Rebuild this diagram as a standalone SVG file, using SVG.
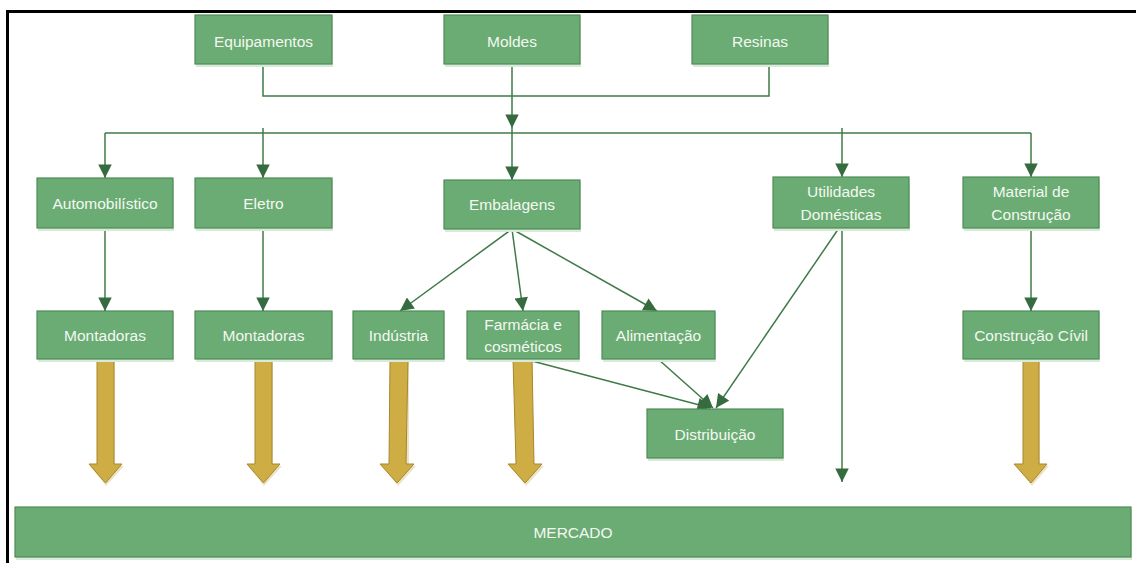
<svg xmlns="http://www.w3.org/2000/svg" width="1136" height="563" viewBox="0 0 1136 563">
  <style>
    .box { fill: #6aac73; stroke: #4e8a56; stroke-width: 1.2; }
    .shadow { fill: #d9ead9; }
    .lbl { font-family: "Liberation Sans", Arial, sans-serif; font-size: 15.5px; fill: #f4f8f2; text-anchor: middle; dominant-baseline: central; }
    .wire { fill: none; stroke: #3f7a47; stroke-width: 1.5; }
    .flow { fill: #cfad45; stroke: #a7872c; stroke-width: 1; }
    .flowshadow { fill: #ece3c6; }
  </style>
  <defs>
    <marker id="headL" viewBox="0 0 10 10" refX="10" refY="5" markerWidth="10" markerHeight="9" orient="auto">
      <path d="M0,0 L10,5 L0,10 Z" fill="#356b3e"/>
    </marker>
  </defs>

  <rect width="1136" height="563" fill="#ffffff"/>
  <!-- page frame -->
  <path d="M7.5,563 V11.5 H1136" fill="none" stroke="#000000" stroke-width="3"/>

  <!-- connectors -->
  <g id="connectors">
    <!-- suppliers merge -->
    <path class="wire" d="M263,64 V96 H769 V64"/>
    <path class="wire" d="M512,64 V128" marker-end="url(#headL)"/>
    <!-- distribution bus -->
    <path class="wire" d="M105,133 H1031"/>
    <path class="wire" d="M263,128 V133"/>
    <path class="wire" d="M512,128 V133"/>
    <path class="wire" d="M842,128 V133"/>
    <path class="wire" d="M105,133 V178" marker-end="url(#headL)"/>
    <path class="wire" d="M263,133 V178" marker-end="url(#headL)"/>
    <path class="wire" d="M512,133 V180" marker-end="url(#headL)"/>
    <path class="wire" d="M842,133 V177" marker-end="url(#headL)"/>
    <path class="wire" d="M1031,133 V177" marker-end="url(#headL)"/>
    <!-- sector to segment -->
    <path class="wire" d="M105,228 V311" marker-end="url(#headL)"/>
    <path class="wire" d="M263,228 V311" marker-end="url(#headL)"/>
    <path class="wire" d="M1031,228 V311" marker-end="url(#headL)"/>
    <!-- packaging branches -->
    <path class="wire" d="M512,229 L400,311" marker-end="url(#headL)"/>
    <path class="wire" d="M512,229 L523,311" marker-end="url(#headL)"/>
    <path class="wire" d="M512,229 L657,311" marker-end="url(#headL)"/>
    <!-- to distribution -->
    <path class="wire" d="M532,361 L711,408" marker-end="url(#headL)"/>
    <path class="wire" d="M658,359 L713,408" marker-end="url(#headL)"/>
    <path class="wire" d="M839,228 L716,408" marker-end="url(#headL)"/>
    <!-- household utilities straight to market -->
    <path class="wire" d="M842,228 V482" marker-end="url(#headL)"/>
  </g>

  <!-- block arrows into the market -->
  <g id="flows">
    <path class="flowshadow" d="M98,361 H115 V466 H124 L106,486 L90,466 H98 Z"/>
    <path class="flow" d="M97,359 H114 V464 H122 L105.5,483 L89,464 H97 Z"/>
    <path class="flowshadow" d="M256,361 H273 V466 H282 L264,486 L248,466 H256 Z"/>
    <path class="flow" d="M255,359 H272 V464 H280 L263.5,483 L247,464 H255 Z"/>
    <path class="flowshadow" d="M391,361 H409 V466 H416 L398,486 L382,466 H390 Z"/>
    <path class="flow" d="M390,359 H408 L406,464 H414 L397,483 L380,464 H389 Z"/>
    <path class="flowshadow" d="M514,361 H533 V466 H544 L526,486 L510,466 H517 Z"/>
    <path class="flow" d="M513,359 H532 L534,464 H542 L525,483 L508,464 H516 Z"/>
    <path class="flowshadow" d="M1024,361 H1040 V466 H1049 L1032,486 L1016,466 H1024 Z"/>
    <path class="flow" d="M1023,359 H1039 V464 H1047 L1031,483 L1014,464 H1023 Z"/>
  </g>

  <!-- suppliers -->
  <g id="equipamentos">
    <rect class="shadow" x="196" y="17" width="137" height="50"/>
    <rect class="box" x="195" y="15" width="137" height="49"/>
    <text class="lbl" x="263.5" y="41">Equipamentos</text>
  </g>
  <g id="moldes">
    <rect class="shadow" x="445" y="17" width="136" height="50"/>
    <rect class="box" x="444" y="15" width="136" height="49"/>
    <text class="lbl" x="512" y="41">Moldes</text>
  </g>
  <g id="resinas">
    <rect class="shadow" x="693" y="17" width="136" height="50"/>
    <rect class="box" x="692" y="15" width="136" height="49"/>
    <text class="lbl" x="760" y="41">Resinas</text>
  </g>

  <!-- sectors -->
  <g id="automobilistico">
    <rect class="shadow" x="38" y="180" width="136" height="51"/>
    <rect class="box" x="37" y="178" width="136" height="50"/>
    <text class="lbl" x="105" y="203">Automobilístico</text>
  </g>
  <g id="eletro">
    <rect class="shadow" x="196" y="180" width="137" height="51"/>
    <rect class="box" x="195" y="178" width="137" height="50"/>
    <text class="lbl" x="263.5" y="203">Eletro</text>
  </g>
  <g id="embalagens">
    <rect class="shadow" x="445" y="182" width="136" height="50"/>
    <rect class="box" x="444" y="180" width="136" height="49"/>
    <text class="lbl" x="512" y="204">Embalagens</text>
  </g>
  <g id="utilidades">
    <rect class="shadow" x="774" y="179" width="136" height="52"/>
    <rect class="box" x="773" y="177" width="136" height="51"/>
    <text class="lbl" x="841" y="191">Utilidades</text>
    <text class="lbl" x="841" y="214">Domésticas</text>
  </g>
  <g id="material-construcao">
    <rect class="shadow" x="964" y="179" width="136" height="52"/>
    <rect class="box" x="963" y="177" width="136" height="51"/>
    <text class="lbl" x="1031" y="191">Material de</text>
    <text class="lbl" x="1031" y="214">Construção</text>
  </g>

  <!-- segments -->
  <g id="montadoras-auto">
    <rect class="shadow" x="38" y="313" width="136" height="49"/>
    <rect class="box" x="37" y="311" width="136" height="48"/>
    <text class="lbl" x="105" y="335">Montadoras</text>
  </g>
  <g id="montadoras-eletro">
    <rect class="shadow" x="196" y="313" width="137" height="49"/>
    <rect class="box" x="195" y="311" width="137" height="48"/>
    <text class="lbl" x="263.5" y="335">Montadoras</text>
  </g>
  <g id="industria">
    <rect class="shadow" x="354" y="313" width="91" height="49"/>
    <rect class="box" x="353" y="311" width="91" height="48"/>
    <text class="lbl" x="398.5" y="335">Indústria</text>
  </g>
  <g id="farmacia">
    <rect class="shadow" x="468" y="313" width="112" height="49"/>
    <rect class="box" x="467" y="311" width="112" height="48"/>
    <text class="lbl" x="523" y="324">Farmácia e</text>
    <text class="lbl" x="523" y="346">cosméticos</text>
  </g>
  <g id="alimentacao">
    <rect class="shadow" x="603" y="313" width="113" height="49"/>
    <rect class="box" x="602" y="311" width="113" height="48"/>
    <text class="lbl" x="658.5" y="335">Alimentação</text>
  </g>
  <g id="construcao-civil">
    <rect class="shadow" x="964" y="313" width="136" height="49"/>
    <rect class="box" x="963" y="311" width="136" height="48"/>
    <text class="lbl" x="1031" y="335">Construção Cívil</text>
  </g>
  <g id="distribuicao">
    <rect class="shadow" x="648" y="411" width="136" height="50"/>
    <rect class="box" x="647" y="409" width="136" height="49"/>
    <text class="lbl" x="715" y="434">Distribuição</text>
  </g>

  <!-- market -->
  <g id="mercado">
    <rect class="shadow" x="16" y="509" width="1116" height="51"/>
    <rect class="box" x="15" y="507" width="1116" height="50"/>
    <text class="lbl" x="573" y="532">MERCADO</text>
  </g>
</svg>
